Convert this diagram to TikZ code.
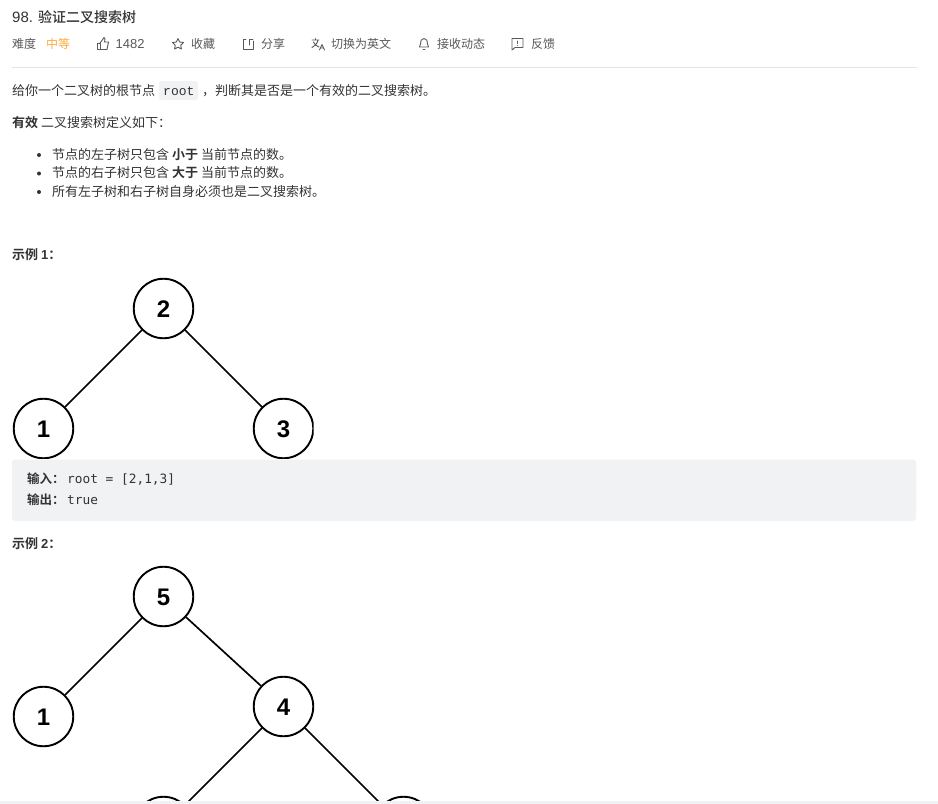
\documentclass[tikz,border=0pt]{standalone}
\usepackage{fontspec}
\setmainfont{Liberation Sans}
\newfontfamily\cjk{Noto Sans CJK SC}
\newfontfamily\cjkb{Noto Sans CJK SC Bold}
\newfontfamily\cjkm{Noto Sans CJK SC Medium}
\newfontfamily\codef{DejaVu Sans Mono}
\newfontfamily\inlinef{Liberation Mono}
\newcommand{\bld}[1]{{\cjkb #1}}
\newcommand{\lowd}[1]{\raisebox{-1pt}[\height][0pt]{#1}}
\definecolor{txt}{HTML}{333333}
\definecolor{meta}{HTML}{595959}
\definecolor{orng}{HTML}{FFA940}
\definecolor{codebg}{HTML}{F1F2F4}
\definecolor{rulec}{HTML}{E4E4E4}
\tikzset{
 x=1pt,y=-1pt,
 body/.style={anchor=base west,inner sep=0,text=txt,font=\fontsize{13}{15}\selectfont\cjk},
 metat/.style={anchor=base west,inner sep=0,text=meta,font=\fontsize{12}{14}\selectfont\cjk},
 codet/.style={anchor=base west,inner sep=0,text=txt,font=\fontsize{12.8}{15}\selectfont\codef},
 tnode/.style={circle,draw=black,line width=1.9pt,fill=white,minimum size=59.5pt,inner sep=0,text=black,font=\fontsize{24}{26}\selectfont\bfseries},
 edge/.style={draw=black,line width=1.7pt},
 icon/.style={draw=meta,line width=0.9pt,line join=round,line cap=round},
 dotb/.style={circle,fill=txt,inner sep=0,minimum size=4pt},
}
\begin{document}
\begin{tikzpicture}
\useasboundingbox (0,0) rectangle (938,804);
\fill[white] (0,0) rectangle (938,804);
% header
\node[body,font=\fontsize{15}{17}\selectfont\rmfamily] (titlenum) at (12,22.5) {98.};
\node[body,font=\fontsize{14}{16}\selectfont\cjkm] (title) at (38,22.5) {验证二叉搜索树};
\node[metat] (diff) at (12,48) {难度};
\node[metat,text=orng] (level) at (46,48) {中等};
\node[metat,font=\fontsize{13}{14}\selectfont\rmfamily] (likes) at (115.5,48) {1482};
\node[metat] (fav) at (191,48) {收藏};
\node[metat] (share) at (261,48) {分享};
\node[metat] (lang) at (331,48) {切换为英文};
\node[metat] (sub) at (437,48) {接收动态};
\node[metat] (fb) at (531,48) {反馈};
% icons
\draw[icon] (97,43) -- (100,43) -- (100,49.5) -- (97,49.5) -- cycle;
\draw[icon] (100,43) -- (103,39) -- (104,37.5) -- (105,39) -- (104.5,42) -- (108.5,42) -- (107,49.5) -- (100,49.5);
\draw[icon] (178,38.5) -- (179.7,42) -- (183.5,42.5) -- (180.7,45.2) -- (181.4,49) -- (178,47.2) -- (174.6,49) -- (175.3,45.2) -- (172.5,42.5) -- (176.3,42) -- cycle;
\draw[icon] (246,39) -- (243,39) -- (243,49) -- (253,49) -- (253,41);
\draw[icon] (249,45) -- (249,39.5) -- (253,39.5);
\draw[icon] (312,40) -- (319,40) (315.5,38.5) -- (315.5,40) (318,40) .. controls (317,44) and (315,46) .. (312,47.5) (313.5,42) .. controls (314.5,44.5) and (316,46) .. (319,47);
\draw[icon] (319.5,50) -- (322,44.5) -- (324.5,50) (320.5,48) -- (323.5,48);
\draw[icon] (424,38.5) .. controls (421,38.5) and (420.5,41) .. (420.5,44) -- (419.5,47) -- (428.5,47) -- (427.5,44) .. controls (427.5,41) and (427,38.5) .. (424,38.5);
\draw[icon] (423,49.5) -- (425,49.5);
\draw[icon] (512,38.5) -- (523,38.5) -- (523,47.5) -- (515,47.5) -- (512,50) -- cycle;
\draw[icon] (517.5,41) -- (517.5,43.5) (517.5,45.3) -- (517.5,45.4);
\draw[draw=rulec,line width=1pt] (12,67.5) -- (916.5,67.5);
% intro
\node[body] (p1a) at (12,95) {给你一个二叉树的根节点};
\fill[codebg,rounded corners=2.5pt] (159,81) rectangle (198,100);
\node[body,font=\fontsize{13}{14}\selectfont\inlinef] (root) at (163,95) {root};
\node[body] (p1b) at (202,95) {，};
\node[body] (p1c) at (215,95) {判断其是否是一个有效的二叉搜索树。};
\node[body] (p2) at (12,127) {\bld{有效} 二叉搜索树定义如下：};
\node[dotb] (d1) at (39,155) {};
\node[dotb] (d2) at (39,173.5) {};
\node[dotb] (d3) at (39,192) {};
\node[body] (l1) at (52,159) {节点的左子树只包含 \bld{小于} 当前节点的数。};
\node[body] (l2) at (52,177.5) {节点的右子树只包含 \bld{大于} 当前节点的数。};
\node[body] (l3) at (52,196) {所有左子树和右子树自身必须也是二叉搜索树。};
\node[body] (ex1) at (12,259) {\bld{示例} {\rmfamily\bfseries 1}\bld{：}};
% tree 1
\begin{scope}
\clip (0,270) rectangle (313.6,458.2);
\node[tnode] (a2) at (163.5,308.5) {\lowd{2}};
\node[tnode] (a1) at (43.5,428.5) {\lowd{1}};
\node[tnode] (a3) at (283.5,428.5) {\lowd{3}};
\draw[edge] (a2) -- (a1);
\draw[edge] (a2) -- (a3);
\end{scope}
% code 1
\fill[codebg,rounded corners=3pt] (12,459.5) rectangle (916,521);
\node[codet] (in1a) at (27,483) {\cjkb\fontsize{12.5}{15}\selectfont 输入：};
\node[codet] (in1b) at (67,483) {root = [2,1,3]};
\node[codet] (out1a) at (27,504) {\cjkb\fontsize{12.5}{15}\selectfont 输出：};
\node[codet] (out1b) at (67,504) {true};
\node[body] (ex2) at (12,548) {\bld{示例} {\rmfamily\bfseries 2}\bld{：}};
% tree 2
\begin{scope}
\clip (0,560) rectangle (938,800.5);
\node[tnode] (b5) at (163.5,596.5) {\lowd{5}};
\node[tnode] (b1) at (43.5,716.5) {\lowd{1}};
\node[tnode] (b4) at (283.5,706.5) {\lowd{4}};
\node[tnode] (b3) at (163.5,826.5) {};
\node[tnode] (b6) at (403.5,826.5) {};
\draw[edge] (b5) -- (b1);
\draw[edge] (b5) -- (b4);
\draw[edge] (b4) -- (b3);
\draw[edge] (b4) -- (b6);
\end{scope}
\fill[codebg] (0,800.5) rectangle (938,804);
\end{tikzpicture}
\end{document}
